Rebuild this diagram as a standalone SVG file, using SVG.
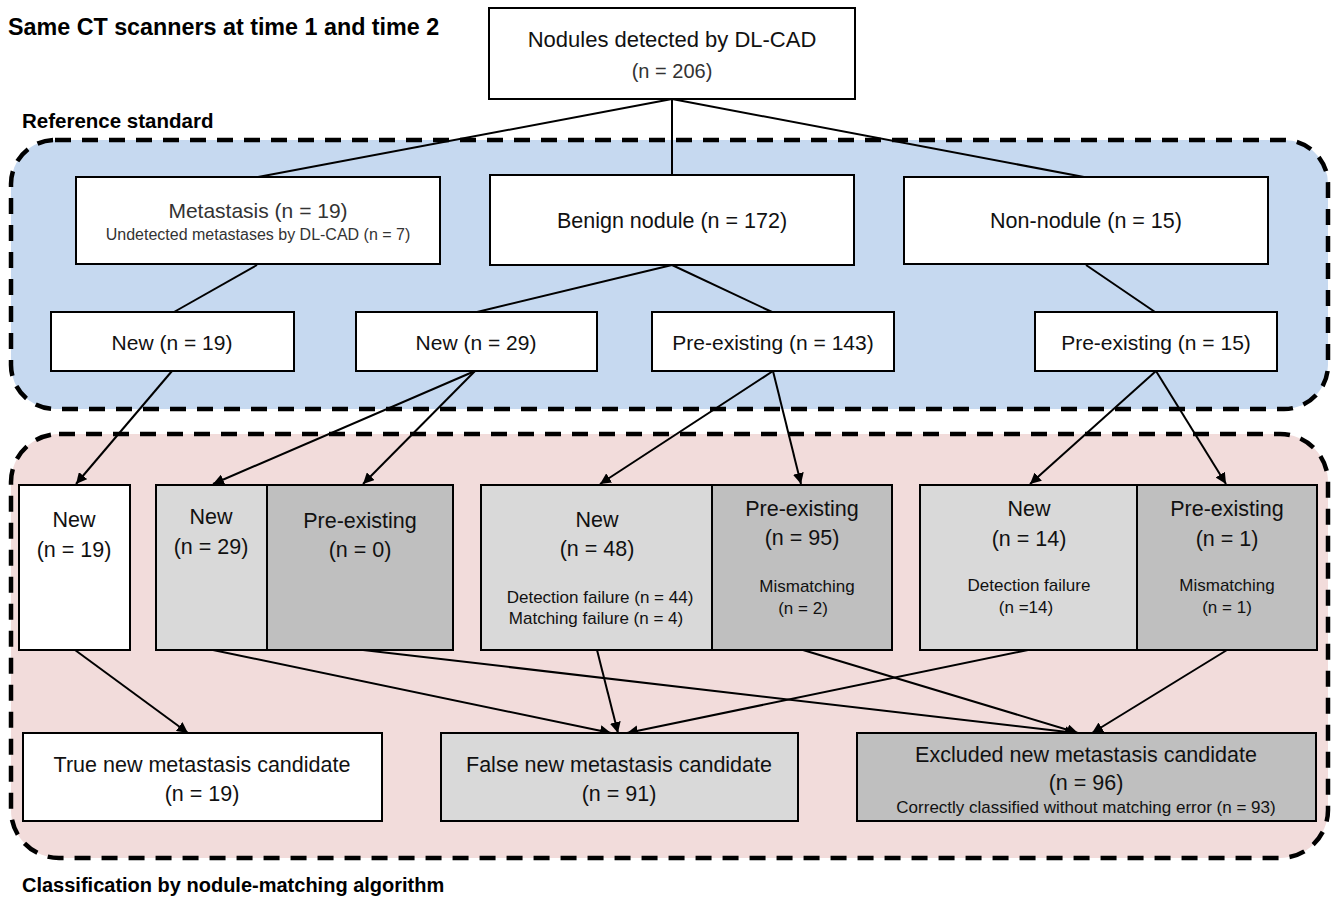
<svg xmlns="http://www.w3.org/2000/svg" width="1334" height="897" viewBox="0 0 1334 897">
<defs>
<marker id="ah" viewBox="0 0 10 10" refX="10" refY="5" markerWidth="11" markerHeight="11" markerUnits="userSpaceOnUse" orient="auto">
<path d="M0,0 L10,5 L0,10 z" fill="#000"/>
</marker>
<style>
.box{stroke:#000;stroke-width:2}
.w{fill:#fff}
.g1{fill:#d9d9d9}
.g2{fill:#bfbfbf}
.t{font-family:"Liberation Sans",Arial,sans-serif;fill:#111;text-anchor:middle;font-size:21.5px}
.s{font-size:17px}
.gr{fill:#333}
.h{font-family:"Liberation Sans",Arial,sans-serif;font-weight:bold;fill:#000}
.l{stroke:#000;stroke-width:2;fill:none}
.a{stroke:#000;stroke-width:2;fill:none;marker-end:url(#ah)}
.region{stroke:#000;stroke-width:4.5;stroke-dasharray:16 11}
</style>
</defs>
<rect width="1334" height="897" fill="#fff"/>
<g id="regions">
<rect class="region" x="11" y="140" width="1317" height="269" rx="44" fill="#c6d9f0"/>
<rect class="region" x="11" y="434" width="1317" height="424" rx="48" fill="#f2dcdb"/>
</g>
<g id="headings">
<text class="h" x="8" y="35" font-size="23.3">Same CT scanners at time 1 and time 2</text>
<text class="h" x="22" y="128" font-size="20.5">Reference standard</text>
<text class="h" x="22" y="892" font-size="20">Classification by nodule-matching algorithm</text>
</g>
<g id="connectors">
<line class="l" x1="672" y1="99" x2="258" y2="177"/>
<line class="l" x1="672" y1="99" x2="672" y2="175"/>
<line class="l" x1="672" y1="99" x2="1084" y2="177"/>
<line class="l" x1="257" y1="265" x2="174" y2="312"/>
<line class="l" x1="672" y1="265" x2="477" y2="312"/>
<line class="l" x1="672" y1="265" x2="772" y2="312"/>
<line class="l" x1="1086" y1="265" x2="1155" y2="312"/>
<line class="a" x1="172" y1="371" x2="76" y2="484"/>
<line class="a" x1="475" y1="371" x2="213" y2="484"/>
<line class="a" x1="475" y1="371" x2="363" y2="484"/>
<line class="a" x1="773" y1="371" x2="600" y2="484"/>
<line class="a" x1="773" y1="371" x2="801" y2="484"/>
<line class="a" x1="1156" y1="371" x2="1030" y2="484"/>
<line class="a" x1="1156" y1="371" x2="1226" y2="484"/>
<line class="a" x1="75" y1="650" x2="188" y2="733"/>
<line class="a" x1="213" y1="650" x2="611" y2="733"/>
<line class="a" x1="363" y1="650" x2="1076" y2="733"/>
<line class="a" x1="597" y1="650" x2="618" y2="733"/>
<line class="a" x1="803" y1="650" x2="1078" y2="733"/>
<line class="a" x1="1028" y1="650" x2="627" y2="733"/>
<line class="a" x1="1227" y1="650" x2="1092" y2="733"/>
</g>
<g id="n-top">
<rect class="box w" x="489" y="8" width="366" height="91"/>
<text class="t" x="672" y="47" font-size="22" style="font-size:22px">Nodules detected by DL-CAD</text>
<text class="t gr" x="672" y="78" style="font-size:20px">(n = 206)</text>
</g>
<g id="n-metastasis">
<rect class="box w" x="76" y="177" width="364" height="87"/>
<text class="t gr" x="258" y="218" style="font-size:21px">Metastasis (n = 19)</text>
<text class="t gr" x="258" y="240" style="font-size:16px">Undetected metastases by DL-CAD (n = 7)</text>
</g>
<g id="n-benign">
<rect class="box w" x="490" y="175" width="364" height="90"/>
<text class="t" x="672" y="228">Benign nodule (n = 172)</text>
</g>
<g id="n-nonnodule">
<rect class="box w" x="904" y="177" width="364" height="87"/>
<text class="t" x="1086" y="228">Non-nodule (n = 15)</text>
</g>
<g id="n-new19">
<rect class="box w" x="51" y="312" width="243" height="59"/>
<text class="t" x="172" y="350" style="font-size:21px">New (n = 19)</text>
</g>
<g id="n-new29">
<rect class="box w" x="356" y="312" width="241" height="59"/>
<text class="t" x="476" y="350" style="font-size:21px">New (n = 29)</text>
</g>
<g id="n-pre143">
<rect class="box w" x="652" y="312" width="242" height="59"/>
<text class="t" x="773" y="350" style="font-size:21px">Pre-existing (n = 143)</text>
</g>
<g id="n-pre15">
<rect class="box w" x="1035" y="312" width="242" height="59"/>
<text class="t" x="1156" y="350" style="font-size:21px">Pre-existing (n = 15)</text>
</g>
<g id="c-new19">
<rect class="box w" x="19" y="485" width="111" height="165"/>
<text class="t" x="74" y="527">New</text>
<text class="t" x="74" y="557">(n = 19)</text>
</g>
<g id="c-new29">
<rect class="box g1" x="156" y="485" width="111" height="165"/>
<text class="t" x="211" y="524">New</text>
<text class="t" x="211" y="554">(n = 29)</text>
</g>
<g id="c-pre0">
<rect class="box g2" x="267" y="485" width="186" height="165"/>
<text class="t" x="360" y="528">Pre-existing</text>
<text class="t" x="360" y="557">(n = 0)</text>
</g>
<g id="c-new48">
<rect class="box g1" x="481" y="485" width="231" height="165"/>
<text class="t" x="597" y="527">New</text>
<text class="t" x="597" y="556">(n = 48)</text>
<text class="t s" x="600" y="603">Detection failure (n = 44)</text>
<text class="t s" x="596" y="624">Matching failure (n = 4)</text>
</g>
<g id="c-pre95">
<rect class="box g2" x="712" y="485" width="180" height="165"/>
<text class="t" x="802" y="516">Pre-existing</text>
<text class="t" x="802" y="545">(n = 95)</text>
<text class="t s" x="807" y="592">Mismatching</text>
<text class="t s" x="803" y="614">(n = 2)</text>
</g>
<g id="c-new14">
<rect class="box g1" x="920" y="485" width="217" height="165"/>
<text class="t" x="1029" y="516">New</text>
<text class="t" x="1029" y="546">(n = 14)</text>
<text class="t s" x="1029" y="591">Detection failure</text>
<text class="t s" x="1026" y="613">(n =14)</text>
</g>
<g id="c-pre1">
<rect class="box g2" x="1137" y="485" width="180" height="165"/>
<text class="t" x="1227" y="516">Pre-existing</text>
<text class="t" x="1227" y="546">(n = 1)</text>
<text class="t s" x="1227" y="591">Mismatching</text>
<text class="t s" x="1227" y="613">(n = 1)</text>
</g>
<g id="r-true">
<rect class="box w" x="23" y="733" width="359" height="88"/>
<text class="t" x="202" y="772">True new metastasis candidate</text>
<text class="t" x="202" y="801">(n = 19)</text>
</g>
<g id="r-false">
<rect class="box g1" x="441" y="733" width="357" height="88"/>
<text class="t" x="619" y="772">False new metastasis candidate</text>
<text class="t" x="619" y="801">(n = 91)</text>
</g>
<g id="r-excluded">
<rect class="box g2" x="857" y="733" width="459" height="88"/>
<text class="t" x="1086" y="762">Excluded new metastasis candidate</text>
<text class="t" x="1086" y="790">(n = 96)</text>
<text class="t s" x="1086" y="813">Correctly classified without matching error (n = 93)</text>
</g>
</svg>
